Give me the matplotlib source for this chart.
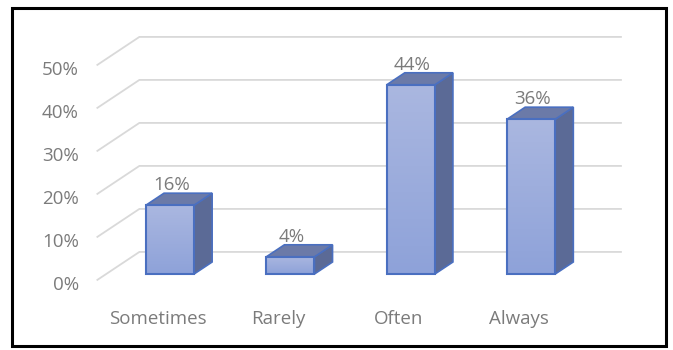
import numpy as np
import matplotlib
matplotlib.use("Agg")
import matplotlib.pyplot as plt
from matplotlib.patches import Polygon, Rectangle

categories = ["Sometimes", "Rarely", "Often", "Always"]
values = [16, 4, 44, 36]
value_labels = ["16%", "4%", "44%", "36%"]
ticks = [0, 10, 20, 30, 40, 50]
tick_labels = ["0%", "10%", "20%", "30%", "40%", "50%"]

# pseudo-3d geometry in data units (x: category index, y: percent)
DX, DY = 0.349, 6.5      # full depth of the floor / side wall
Z_FRONT, Z_BACK = 0.21, 0.64   # bar depth as fraction of the floor
HALF_W = 0.2
X_LEFT, X_RIGHT = -0.53, 3.47  # back wall extent in the bar plane

text_col = "#7b7b7b"
grid_col = "#d9d9d9"
edge_col = "#4a6fc0"
top_col = "#6b7aa8"
side_col = "#5b6a96"

plt.rcParams["font.family"] = ["Open Sans", "DejaVu Sans"]
FS = 13.5

fig = plt.figure(figsize=(6.73, 3.5), dpi=100)
ax = fig.add_axes([0, 0, 1, 1])
ax.set_xlim(-1.412, 4.178)
ax.set_ylim(-17.67, 63.72)
ax.axis("off")


def shift(x, y, z):
    # move a point from the bar front plane to depth z (0 = floor front, 1 = back wall)
    return x + (z - Z_FRONT) * DX, y + (z - Z_FRONT) * DY


# back wall gridlines and left wall diagonals
for t, lab in zip(ticks, tick_labels):
    x0, y0 = shift(X_LEFT, t, 0)
    x1, y1 = shift(X_LEFT, t, 1)
    x2, y2 = shift(X_RIGHT, t, 1)
    ax.plot([x0, x1, x2], [y0, y1, y2], color=grid_col, lw=1.3, zorder=1,
            solid_joinstyle="miter")
    ax.text(x0 - 0.155, y0 - 1.1, lab, ha="right", va="center", fontsize=FS,
            color=text_col)

# bars
grad = np.linspace(0, 1, 100).reshape(-1, 1)
cmap = matplotlib.colors.LinearSegmentedColormap.from_list(
    "face", ["#8ea2d9", "#aab7e0"])
for i, (v, lab) in enumerate(zip(values, value_labels)):
    xl, xr = i - HALF_W, i + HALF_W
    d = Z_BACK - Z_FRONT
    ddx, ddy = d * DX, d * DY
    front = [(xl, 0), (xr, 0), (xr, v), (xl, v)]
    top = [(xl, v), (xr, v), (xr + ddx, v + ddy), (xl + ddx, v + ddy)]
    side = [(xr, 0), (xr + ddx, ddy), (xr + ddx, v + ddy), (xr, v)]
    ax.add_patch(Polygon(side, closed=True, fc=side_col, ec=edge_col, lw=1.2,
                         zorder=3))
    ax.add_patch(Polygon(top, closed=True, fc=top_col, ec=edge_col, lw=1.2,
                         zorder=3))
    fp = Polygon(front, closed=True, fc="none", ec=edge_col, lw=1.5, zorder=5)
    ax.add_patch(fp)
    im = ax.imshow(grad, cmap=cmap, extent=[xl, xr, 0, v], origin="lower",
                   aspect="auto", zorder=4)
    im.set_clip_path(fp)
    ax.text(i + 0.01, v + ddy - 0.3, lab, ha="center", va="bottom",
            fontsize=FS, color=text_col, zorder=6)
    cx, cy = shift(i, 0, 0)
    ax.text(cx - 0.03, -10.4, categories[i], ha="center", va="center",
            fontsize=FS, color=text_col)

# outer frame
fig.patches.append(Rectangle((12 / 673, 4 / 350), 654 / 673, 338 / 350,
                             transform=fig.transFigure, fill=False,
                             ec="black", lw=2.2))

fig.savefig("out.png", dpi=100, facecolor="white")
